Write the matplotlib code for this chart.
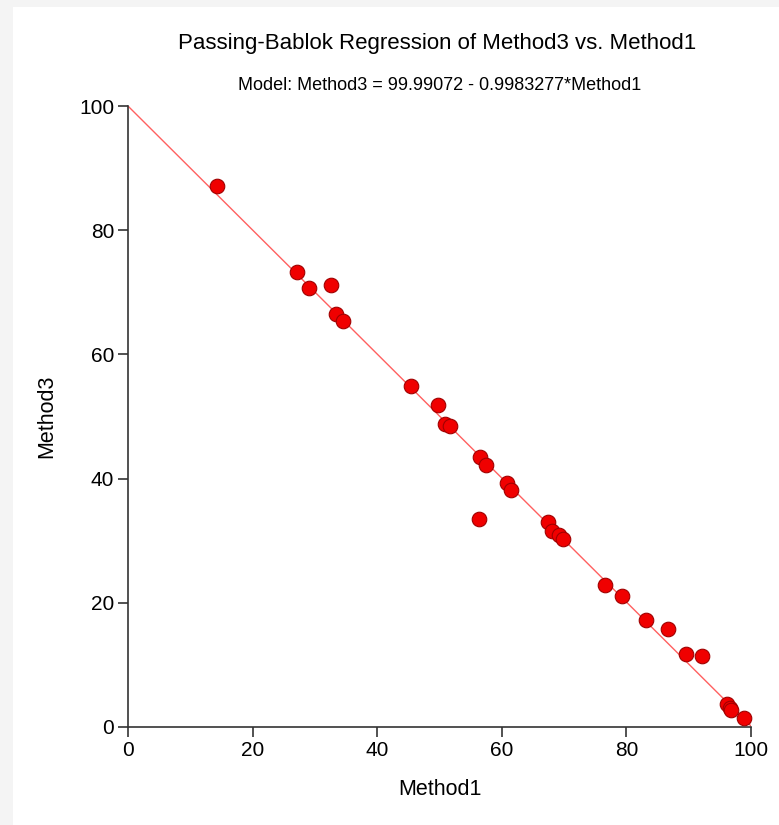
import matplotlib.pyplot as plt
import numpy as np
from matplotlib.patches import Rectangle

plt.rcParams['font.family'] = ['Liberation Sans', 'DejaVu Sans']

method1 = [14.3, 27.1, 29.1, 32.6, 33.4, 34.5, 45.4, 49.8, 50.9, 51.7,
           56.5, 57.5, 56.3, 60.8, 61.5, 67.4, 68.1, 69.2, 69.8, 76.6,
           79.3, 83.1, 86.7, 89.6, 92.1, 96.1, 96.6, 96.8, 98.9]
method3 = [87.1, 73.3, 70.7, 71.2, 66.5, 65.4, 54.9, 51.9, 48.8, 48.5,
           43.5, 42.2, 33.5, 39.3, 38.2, 33.0, 31.6, 30.9, 30.3, 22.9,
           21.1, 17.2, 15.8, 11.8, 11.4, 3.7, 3.1, 2.7, 1.4]
intercept = 99.99072
slope = -0.9983277
xticks = [0, 20, 40, 60, 80, 100]
yticks = [0, 20, 40, 60, 80, 100]

fig = plt.figure(figsize=(7.79, 8.25), dpi=100)
fig.patch.set_facecolor('#f4f4f4')
# white panel inside the light grey frame
fig.add_artist(Rectangle((13 / 779, 0), 1, 1 - 7 / 825, transform=fig.transFigure,
                         facecolor='white', edgecolor='none', zorder=-5))

ax = fig.add_axes([128 / 779, 98 / 825, 623 / 779, 621 / 825])
ax.set_zorder(2)
ax.set_facecolor('none')

xl = np.array([0, 100])
ax.plot(xl, intercept + slope * xl, color='#ff6060', lw=1.0, zorder=2)
ax.scatter(method1, method3, s=110, color='#f00000', edgecolors='#a00000',
           linewidths=0.8, zorder=3, clip_on=False)

ax.set_xlim(0, 100)
ax.set_ylim(0, 100)
ax.set_xticks(xticks)
ax.set_yticks(yticks)
for s in ['top', 'right']:
    ax.spines[s].set_visible(False)
for s in ['left', 'bottom']:
    ax.spines[s].set_color('#333333')
    ax.spines[s].set_linewidth(1.2)
ax.tick_params(direction='out', length=7, width=1.2, color='#333333',
               labelsize=15, pad=3)
ax.set_xlabel('Method1', fontsize=15.5, labelpad=14)
ax.set_ylabel('Method3', fontsize=15.5, labelpad=16)

fig.text(437 / 779, 1 - 44 / 825, 'Passing-Bablok Regression of Method3 vs. Method1',
         ha='center', va='center', fontsize=16)
fig.text(440 / 779, 1 - 86 / 825, 'Model: Method3 = 99.99072 - 0.9983277*Method1',
         ha='center', va='center', fontsize=13)

fig.savefig('out.png', dpi=100)
